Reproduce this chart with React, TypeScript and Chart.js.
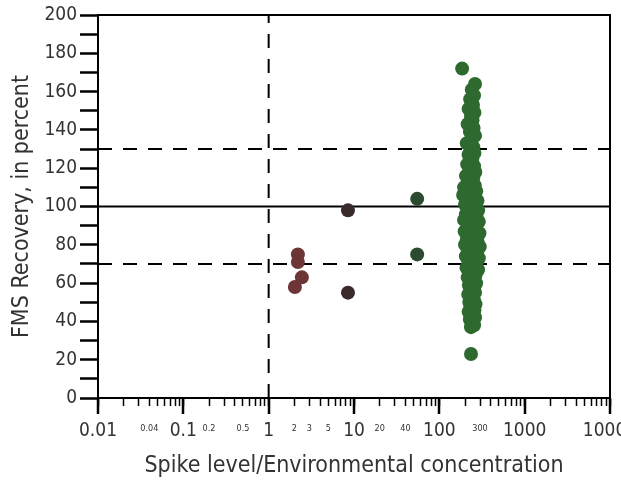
import React, { useEffect, useRef } from 'react';
import { Chart, registerables } from 'chart.js';
Chart.register(...registerables);

// ---- data ----
const brownX = [2.2, 2.2, 2.45, 2.03];
const brownY = [75, 71, 63, 58];
const darkX = [8.5, 8.5];
const darkY = [98, 55];
const midGreenX = [55, 55];
const midGreenY = [104, 75];
const clusterX = [
  185, 262, 240, 255, 230, 248, 220, 258, 235, 245, 215, 252, 228, 262, 240, 210, 250, 232, 258, 220,
  244, 236, 212, 255, 226, 264, 240, 205, 250, 232, 218, 260, 195, 245, 270, 228, 190, 255, 212, 280,
  238, 200, 262, 225, 285, 248, 205, 272, 232, 195, 290, 252, 215, 268, 240, 198, 295, 225, 260, 210,
  280, 235, 200, 298, 248, 218, 275, 230, 205, 290, 255, 220, 270, 238, 208, 285, 245, 225, 265, 215,
  250, 235, 270, 222, 258, 240, 228, 262, 218, 248, 235, 255, 225, 265, 242, 230, 258, 220, 250, 238,
  262, 228, 248, 240, 255, 235, 235,
];
const clusterY = [
  172, 164, 161, 158, 156, 153, 151, 149, 147, 145, 143, 141, 139, 137, 135, 133, 131, 130, 128, 127,
  125, 123, 122, 121, 119, 118, 117, 116, 115, 113, 112, 111, 110, 109, 108, 107, 106, 105, 104, 103,
  102, 101, 100, 99, 98, 97, 96, 95, 94, 93, 92, 91, 90, 89, 88, 87, 86, 85, 84, 83,
  82, 81, 80, 79, 78, 77, 76, 75, 74, 73, 72, 71, 70, 69, 68, 67, 66, 65, 64, 63,
  62, 61, 60, 59, 58, 57, 56, 55, 54, 53, 52, 51, 50, 49, 48, 47, 46, 45, 44, 43,
  42, 41, 40, 39, 38, 37, 23,
];

const refUpper = 130;
const refCenter = 100;
const refLower = 70;
const refVertical = 1;

const xMin = 0.01;
const xMax = 10000;
const yMin = 0;
const yMax = 200;
const xMajorLabels = [0.01, 0.1, 1, 10, 100, 1000, 10000];
const xMinorLabels = [0.04, 0.2, 0.5, 2, 3, 5, 20, 40, 300];
const xDecades = [0.01, 0.1, 1, 10, 100, 1000];
const xMultipliers = [1, 2, 3, 4, 5, 6, 7, 8, 9];

const xTitle = 'Spike level/Environmental concentration';
const yTitle = 'FMS Recovery, in percent';

const FONT = '"DejaVu Sans Condensed", "Liberation Sans Narrow", "Roboto Condensed", Roboto, sans-serif';
const TEXT = '#333333';

const near = (a: number, b: number) => Math.abs(a - b) / b < 1e-6;
const fmt = (v: number) => String(parseFloat(v.toPrecision(3)));

const xTickValues: number[] = [];
xDecades.forEach((d) => xMultipliers.forEach((m) => xTickValues.push(parseFloat((d * m).toPrecision(3)))));
xTickValues.push(xMax);

const toPts = (xs: number[], ys: number[]) => xs.map((x, i) => ({ x, y: ys[i] }));

const framePlugin = {
  id: 'frame',
  afterDraw(chart: any) {
    const { ctx, chartArea } = chart;
    const xs = chart.scales.x;
    ctx.save();
    ctx.strokeStyle = '#000';
    ctx.lineWidth = 2;
    ctx.beginPath();
    ctx.moveTo(chartArea.left, chartArea.top);
    ctx.lineTo(chartArea.right, chartArea.top);
    ctx.lineTo(chartArea.right, chartArea.bottom);
    ctx.stroke();
    ctx.lineWidth = 2.5;
    xMajorLabels.forEach((v) => {
      const px = Math.round(xs.getPixelForValue(v));
      ctx.beginPath();
      ctx.moveTo(px, chartArea.bottom);
      ctx.lineTo(px, chartArea.bottom + 16);
      ctx.stroke();
    });
    ctx.restore();
  },
};

export default function App() {
  const ref = useRef<HTMLCanvasElement>(null);
  useEffect(() => {
    const lineDs = (pts: { x: number; y: number }[], dash: number[]) => ({
      type: 'line' as const,
      data: pts,
      showLine: true,
      borderColor: '#000',
      borderWidth: 2,
      borderDash: dash,
      pointRadius: 0,
      fill: false,
      order: 10,
    });
    const dotDs = (pts: { x: number; y: number }[], color: string) => ({
      type: 'scatter' as const,
      data: pts,
      backgroundColor: color,
      borderWidth: 0,
      pointRadius: 7,
      pointHoverRadius: 7,
      order: 1,
    });
    const chart = new Chart(ref.current!, {
      type: 'scatter',
      data: {
        datasets: [
          dotDs(toPts(brownX, brownY), '#6d3535'),
          dotDs(toPts(darkX, darkY), '#3a2a2c'),
          dotDs(toPts(midGreenX, midGreenY), '#2c4a30'),
          dotDs(toPts(clusterX, clusterY), '#2e6a30'),
          lineDs([{ x: xMin, y: refUpper }, { x: xMax, y: refUpper }], [14, 11]),
          lineDs([{ x: xMin, y: refCenter }, { x: xMax, y: refCenter }], []),
          lineDs([{ x: xMin, y: refLower }, { x: xMax, y: refLower }], [14, 11]),
          lineDs([{ x: refVertical, y: yMin }, { x: refVertical, y: yMax }], [14, 11]),
        ] as any,
      },
      options: {
        animation: false,
        responsive: false,
        layout: { padding: { top: 15, right: 11, bottom: 4, left: 8 } },
        plugins: { legend: { display: false }, tooltip: { enabled: false } },
        scales: {
          x: {
            type: 'logarithmic',
            min: xMin,
            max: xMax,
            afterBuildTicks: (scale: any) => {
              scale.ticks = xTickValues.map((v) => ({ value: v }));
            },
            afterFit: (scale: any) => {
              scale.height = 82;
              scale.paddingLeft = 0;
              scale.paddingRight = 0;
            },
            grid: { drawOnChartArea: false, tickLength: 8, tickColor: '#000', tickWidth: 1.5 },
            border: { color: '#000', width: 2 },
            ticks: {
              autoSkip: false,
              maxRotation: 0,
              minRotation: 0,
              padding: 14,
              color: TEXT,
              font: (ctx: any) => {
                const v = ctx.tick ? ctx.tick.value : 1;
                const major = xMajorLabels.some((m) => near(v, m));
                return major ? { family: FONT, size: 19 } : { family: FONT, size: 9, lineHeight: 1.9 };
              },
              callback: (v: any) => {
                const n = Number(v);
                if (xMajorLabels.some((m) => near(n, m)) || xMinorLabels.some((m) => near(n, m))) return fmt(n);
                return '';
              },
            },
            title: { display: true, text: xTitle, color: TEXT, font: { family: FONT, size: 23 }, padding: 0 },
          },
          y: {
            min: yMin,
            max: yMax,
            afterFit: (scale: any) => {
              scale.width = 90;
              scale.paddingTop = 0;
              scale.paddingBottom = 0;
            },
            grid: { drawOnChartArea: false, tickLength: 18, tickColor: '#000', tickWidth: 2.5 },
            border: { color: '#000', width: 2 },
            ticks: {
              stepSize: 10,
              autoSkip: false,
              padding: 3,
              color: TEXT,
              font: { family: FONT, size: 19 },
              callback: (v: any) => (Number(v) % 20 === 0 ? String(v) : ''),
            },
            title: { display: true, text: yTitle, color: TEXT, font: { family: FONT, size: 23 }, padding: 0 },
          },
        },
      } as any,
      plugins: [framePlugin],
    });
    return () => chart.destroy();
  }, []);
  return (
    <div style={{ position: 'fixed', left: 0, top: 0, width: 621, height: 484, background: '#fff' }}>
      <canvas ref={ref} width={621} height={484} style={{ width: 621, height: 484 }} />
    </div>
  );
}
